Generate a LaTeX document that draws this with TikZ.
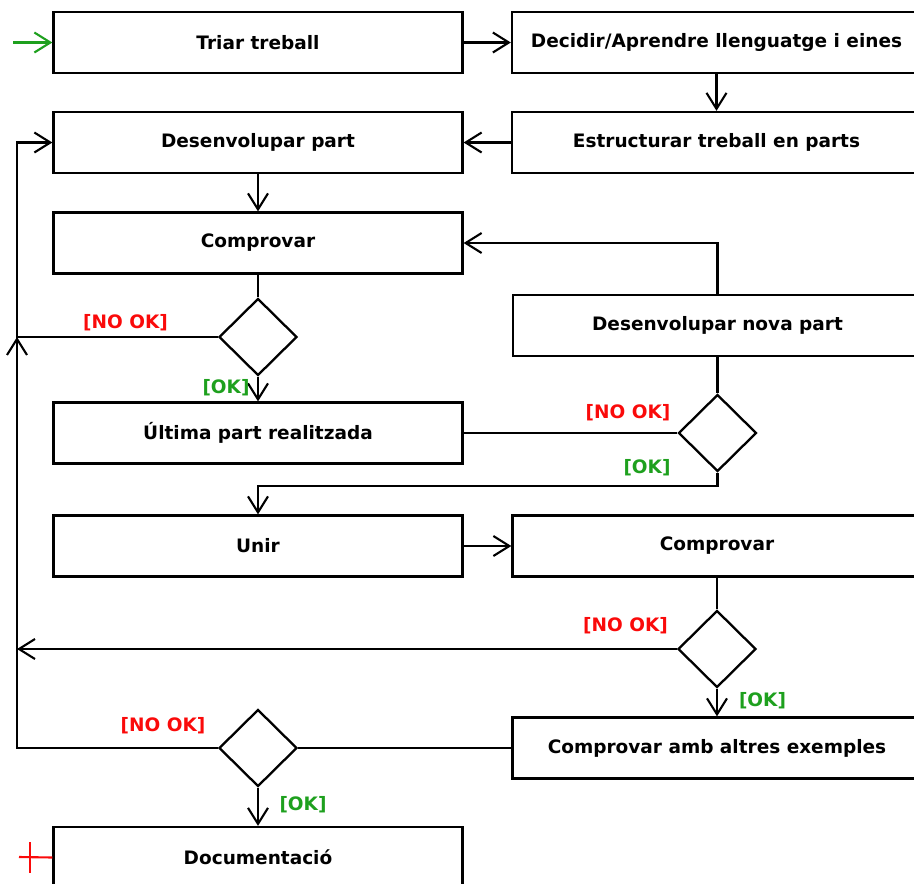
\documentclass[tikz,border=0pt]{standalone}
\usepackage{fontspec}
\setmainfont{DejaVu Sans}
\usetikzlibrary{arrows.meta,shapes.geometric}
\definecolor{okgreen}{RGB}{30,160,30}
\definecolor{nored}{RGB}{250,10,10}
\tikzset{
  box/.style={draw, line width=2.3pt, minimum width=409pt, minimum height=61pt, inner sep=0pt, font=\bfseries\fontsize{18.5}{20}\selectfont},
  dia/.style={draw, diamond, line width=2.3pt, minimum width=78pt, minimum height=77pt, inner sep=0pt},
  conn/.style={line width=2.1pt},
  arr/.style={conn, -{Straight Barb[length=16pt,width=20pt,line width=2.1pt]}},
  nolab/.style={text=nored, font=\bfseries\fontsize{18.5}{20}\selectfont, inner sep=0pt},
  oklab/.style={text=okgreen, font=\bfseries\fontsize{18.5}{20}\selectfont, inner sep=0pt}
}
\begin{document}
\begin{tikzpicture}[x=1pt,y=-1pt]
\useasboundingbox (0,0) rectangle (914,884);
\clip (0,0) rectangle (914,884);
% boxes
\node[box] (t1) at (258,42.5) {Triar treball};
\node[box] (t2) at (716.5,42.5) {Decidir/Aprendre llenguatge i eines};
\node[box] (d1) at (258,142.5) {Desenvolupar part};
\node[box] (e1) at (716.5,142.5) {Estructurar treball en parts};
\node[box] (c1) at (258,243) {Comprovar};
\node[dia] (q1) at (258,337) {};
\node[box] (n1) at (717.5,325.5) {Desenvolupar nova part};
\node[box] (u1) at (258,433) {Última part realitzada};
\node[dia] (q2) at (717.5,433) {};
\node[box] (un) at (258,546) {Unir};
\node[box] (c2) at (717,546) {Comprovar};
\node[dia] (q3) at (717,649) {};
\node[box] (ca) at (717,748) {Comprovar amb altres exemples};
\node[dia] (q4) at (258,748) {};
\node[box] (doc) at (258,857.5) {Documentació};
% coordinates
\coordinate (s0) at (13,42.5);
\coordinate (j1) at (17,337);
\coordinate (j2) at (17,649);
\coordinate (r1) at (19,857);
\coordinate (r2) at (30,842);
\coordinate (r3) at (30,873);
% connectors
\draw[arr, okgreen] (s0) -- (t1.west);
\draw[arr] (t1.east) -- (t2.west);
\draw[arr] (t2.south) -- (e1.north);
\draw[arr] (e1.west) -- (d1.east);
\draw[arr] (d1.south) -- (c1.north);
\draw[conn] (c1.south) -- (q1.north);
\draw[arr] (q1.south) -- (u1.north);
\draw[arr] (q1.west) -- (j1) |- (d1.west);
\draw[arr] (n1.north) |- (c1.east);
\draw[conn] (n1.south) -- (q2.north);
\draw[conn] (q2.west) -- (u1.east);
\draw[arr] (q2.south) -- ++(0,13) -| (un.north);
\draw[arr] (un.east) -- (c2.west);
\draw[conn] (c2.south) -- (q3.north);
\draw[arr] (q3.west) -- (j2);
\draw[arr] (q3.south) -- (ca.north);
\draw[conn] (ca.west) -- (q4.east);
\draw[arr] (q4.west) -| (j1);
\draw[arr] (q4.south) -- (doc.north);
\draw[nored, line width=2.1pt] (r1) -- (doc.west);
\draw[nored, line width=2.1pt] (r2) -- (r3);
% labels
\node[nolab] (l1) at (125.5,323) {[NO OK]};
\node[oklab] (l2) at (226,388) {[OK]};
\node[nolab] (l3) at (628,413) {[NO OK]};
\node[oklab] (l4) at (647,468) {[OK]};
\node[nolab] (l5) at (625.5,626) {[NO OK]};
\node[oklab] (l6) at (762.5,700.5) {[OK]};
\node[nolab] (l7) at (163,726) {[NO OK]};
\node[oklab] (l8) at (303,805) {[OK]};
\end{tikzpicture}
\end{document}
